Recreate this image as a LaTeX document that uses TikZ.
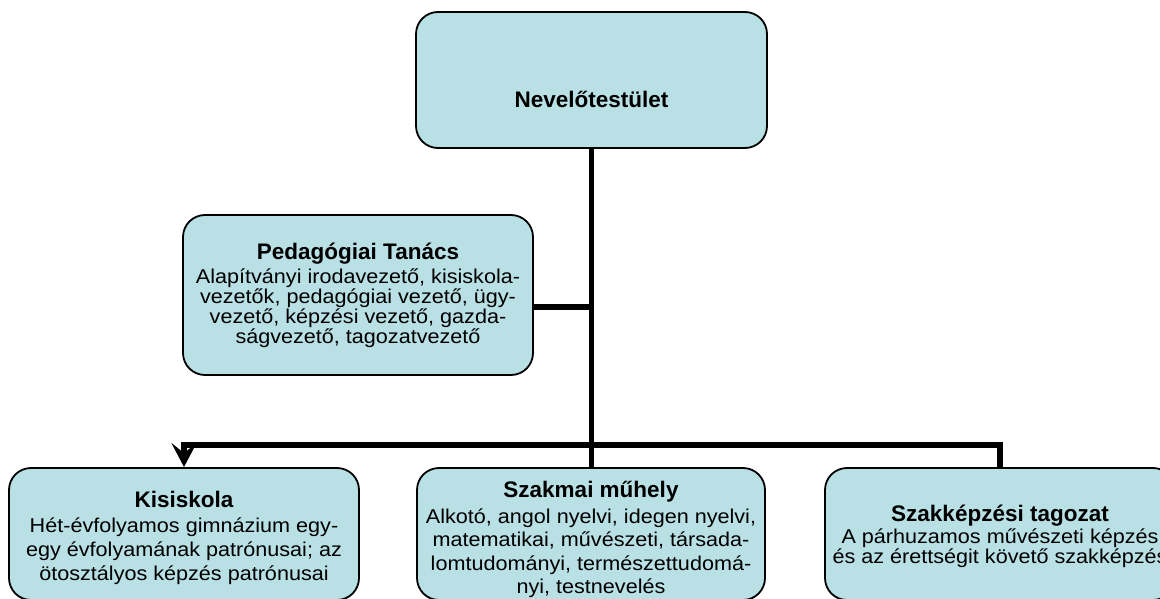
\documentclass[tikz,border=0pt]{standalone}
\usepackage{fontspec}
\setmainfont{Liberation Sans}
\newfontfamily\bodyfam{Liberation Sans}[FakeStretch=1.08]
\usetikzlibrary{arrows.meta}
\definecolor{boxfill}{RGB}{185,224,228}
\newcommand{\ttlf}{\normalfont\bfseries\fontsize{22.5}{26}\selectfont}
\newcommand{\bodysz}[1]{\bodyfam\fontsize{20}{#1}\selectfont}
\begin{document}
\lineskiplimit=-50pt\relax
\begin{tikzpicture}[x=1pt,y=-1pt,
  box/.style={draw=black, line width=1.8pt, fill=boxfill, rounded corners=22pt, inner sep=0pt, align=center},
  conn/.style={line width=5.5pt},
  tip/.style={-{Stealth[length=24pt,width=25pt,inset=10pt]}}]
\useasboundingbox (0,0) rectangle (1160,599);

\node[box, minimum width=351pt, minimum height=136pt, text height=56pt, text depth=0pt, font=\ttlf] (nev) at (591.5,80) {Nevelőtestület};

\node[box, minimum width=350pt, minimum height=160pt, font=\bodysz{20}] (ped) at (358,295)
  {{\ttlf Pedagógiai Tanács}\\[4pt] Alapítványi irodavezető, kisiskola-\\ vezetők, pedagógiai vezető, ügy-\\ vezető, képzési vezető, gazda-\\ ságvezető, tagozatvezető};

\node[box, minimum width=350pt, minimum height=132pt, font=\bodysz{24}] (kis) at (184,534)
  {\rule{0pt}{24pt}{\ttlf Kisiskola}\\[1pt] Hét-évfolyamos gimnázium egy-\\ egy évfolyamának patrónusai; az\\ ötosztályos képzés patrónusai};

\node[box, minimum width=348pt, minimum height=132pt, font=\bodysz{23.5}] (szm) at (591,534)
  {\rule{0pt}{28pt}{\ttlf Szakmai műhely}\\[2pt] Alkotó, angol nyelvi, idegen nyelvi,\\ matematikai, művészeti, társada-\\ lomtudományi, természettudomá-\\ nyi, testnevelés};

\node[box, minimum width=350pt, minimum height=132pt, font=\bodysz{20.5}] (szt) at (1000,534)
  {\rule{0pt}{21pt}{\ttlf Szakképzési tagozat}\\[1.5pt] A párhuzamos művészeti képzés\\ és az érettségit követő szakképzés};

\coordinate (bus) at (591.5,445);
\draw[conn] (nev.south) -- (nev.south |- szm.north);
\draw[conn] ([yshift=-12pt]ped.east) -- ([yshift=-12pt]ped.east -| nev.south);
\draw[conn, tip] (szt.north) |- (bus) -| (kis.north);
\end{tikzpicture}
\end{document}
